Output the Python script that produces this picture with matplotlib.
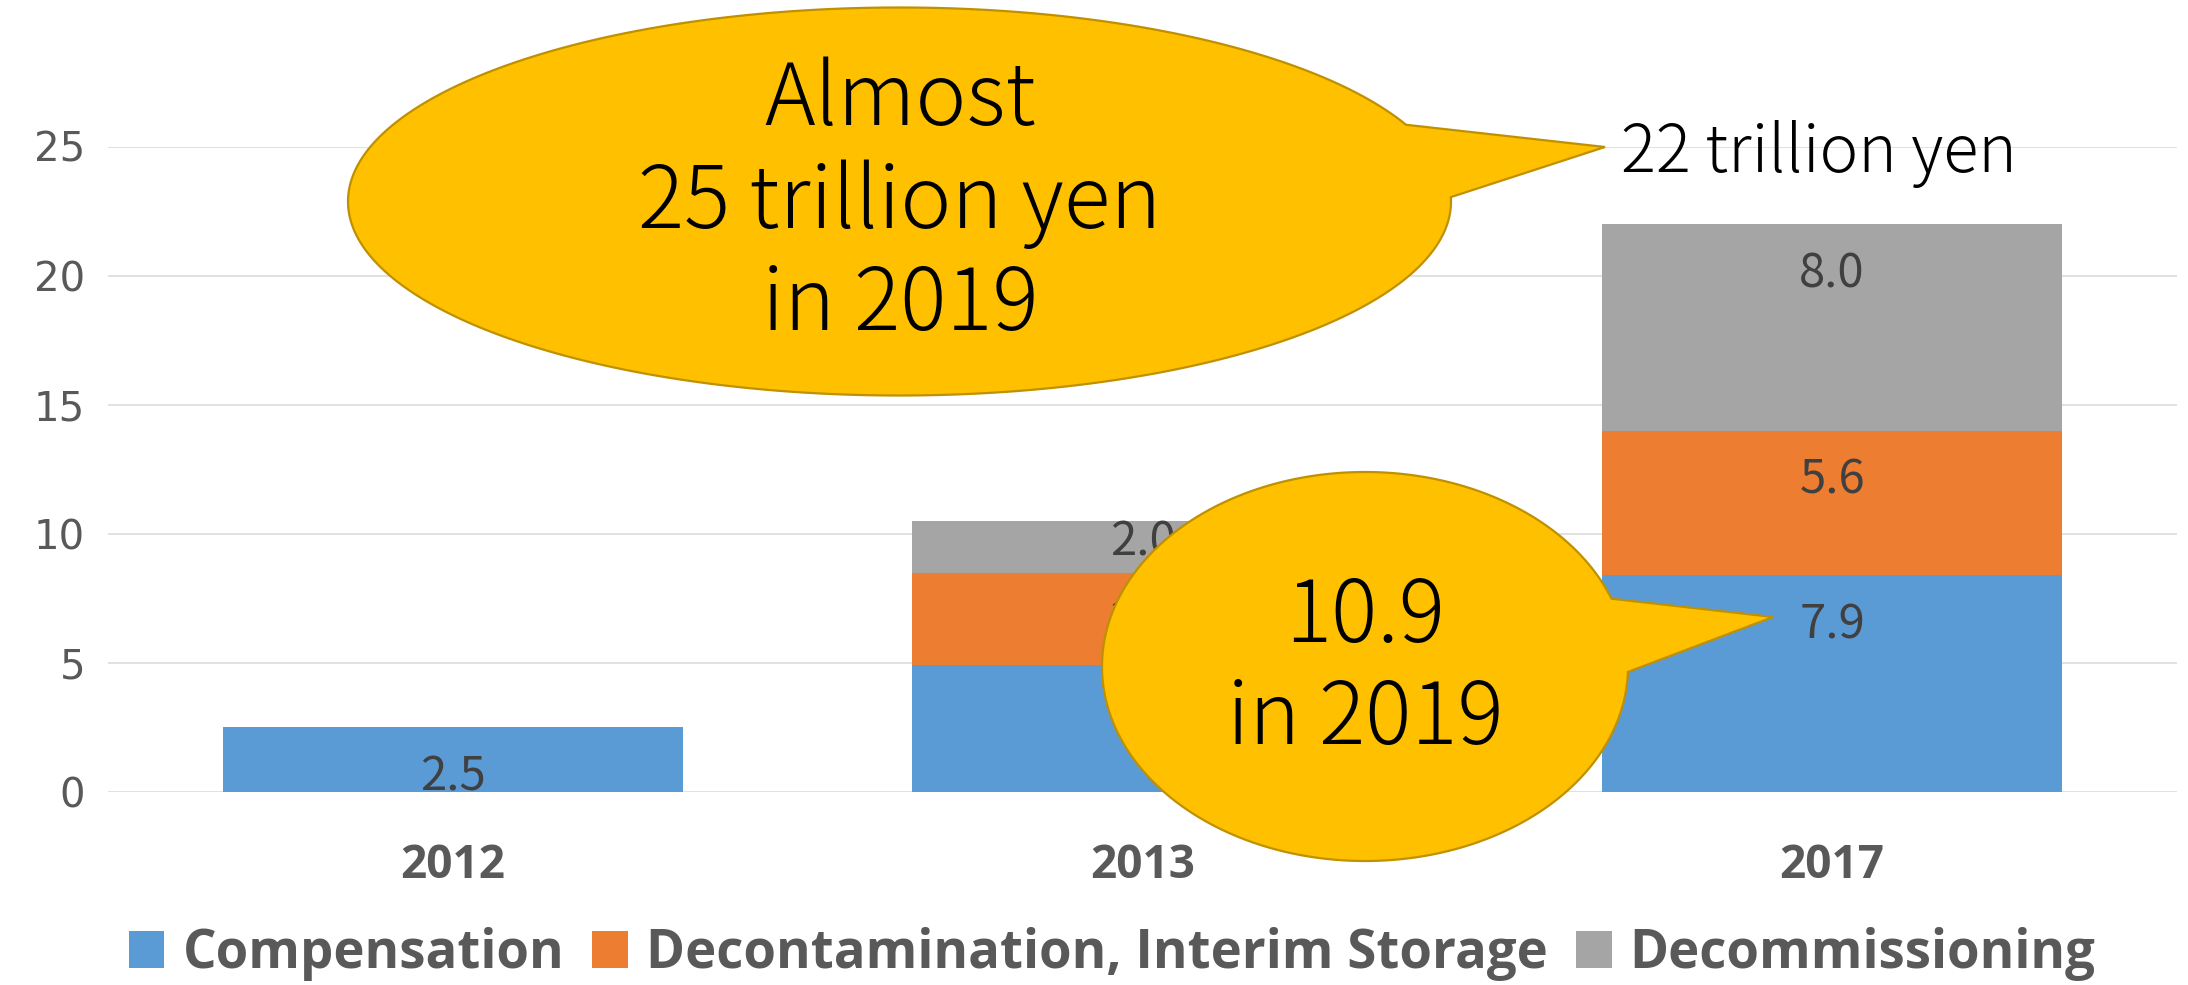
import numpy as np
import matplotlib
matplotlib.use("Agg")
import matplotlib.pyplot as plt
from matplotlib.patches import Polygon, Patch
from matplotlib import transforms

# ---------------- data ----------------
categories = ["2012", "2013", "2017"]
compensation = [2.5, 4.9, 8.4]
decontamination = [0.0, 3.6, 5.6]
decommissioning = [0.0, 2.0, 8.0]
compensation_labels = ["2.5", "4.9", "7.9"]
decontamination_labels = [None, "3.6", "5.6"]
decommissioning_labels = [None, "2.0", "8.0"]
series_names = ["Compensation", "Decontamination, Interim Storage", "Decommissioning"]
yticks = [0, 5, 10, 15, 20, 25]

colors = ["#5B9BD5", "#ED7D31", "#A5A5A5"]

W, H = 2188, 985
fig = plt.figure(figsize=(W / 100, H / 100), dpi=100)
fig.patch.set_facecolor("white")
ax = fig.add_axes([108 / W, 1 - 792 / H, (2177 - 108) / W, (792 - 146.5) / H])

x = np.arange(len(categories))
bw = 0.667
series = [compensation, decontamination, decommissioning]
labels = [compensation_labels, decontamination_labels, decommissioning_labels]
bottom = np.zeros(len(categories))
for vals, lab, col in zip(series, labels, colors):
    vals = np.array(vals, dtype=float)
    ax.bar(x, vals, bw, bottom=bottom, color=col, zorder=2, linewidth=0)
    for i in range(len(x)):
        if lab[i] is None or vals[i] <= 0:
            continue
        top = bottom[i] + vals[i]
        off = 2.45 if vals[i] >= 2.45 else 0.675 * vals[i]
        ax.text(x[i], top - off, lab[i], ha="center", va="baseline",
                fontsize=34, color="#404040",
                family=["Noto Sans CJK JP", "DejaVu Sans"], zorder=3)
    bottom = bottom + vals

ax.set_xlim(-0.5, 2.5)
ax.set_ylim(0, 25)
ax.set_yticks(yticks)
ax.set_yticklabels([str(v) for v in yticks], fontsize=29, color="#595959",
                   family="DejaVu Sans")
ax.set_xticks(x)
ax.set_xticklabels(categories, fontsize=33, color="#595959",
                   family=["Open Sans", "DejaVu Sans"], fontweight="bold")
ax.tick_params(axis="y", length=0, pad=16.5)
ax.tick_params(axis="x", length=0, pad=36)
ax.grid(axis="y", color="#D9D9D9", linewidth=1.1, zorder=0)
ax.set_axisbelow(True)
for s in ax.spines.values():
    s.set_visible(False)

# ---------------- legend ----------------
handles = [Patch(facecolor=c, edgecolor="none") for c in colors]
fig.legend(handles, series_names, loc="center", bbox_to_anchor=(1112 / W, 1 - 954 / H),
           ncol=3, frameon=False,
           prop={"family": ["Open Sans", "DejaVu Sans"], "weight": "bold", "size": 38},
           handlelength=0.68, handleheight=0.68, handletextpad=0.34,
           columnspacing=0.53, labelcolor="#595959", borderaxespad=0, borderpad=0)

# ---------------- callouts (pixel coords, y down) ----------------
px = transforms.Affine2D().scale(1 / W, -1 / H).translate(0, 1) + fig.transFigure


def callout(cx, cy, rx, ry, a1, a2, tip):
    t = np.radians(np.linspace(a2, a1 + 360, 500))
    pts = np.column_stack([cx + rx * np.cos(t), cy + ry * np.sin(t)])
    pts = np.vstack([pts, [tip]])
    poly = Polygon(pts, closed=True, facecolor="#FFC000", edgecolor="#BF9000",
                   linewidth=1.6, transform=px, zorder=10)
    fig.add_artist(poly)


callout(899.5, 201.5, 551.5, 194.0, -23.3, -1.3, (1605, 147))
callout(1365, 666.5, 263, 194.5, -20.4, 1.6, (1773, 617))

cfont = ["Noto Sans CJK JP", "DejaVu Sans"]
for txt, yb in [("Almost", 125), ("25 trillion yen", 228), ("in 2019", 330)]:
    fig.text(900, yb, txt, transform=px, ha="center", va="baseline",
             fontsize=62, family=cfont, fontweight="light", color="black", zorder=11)
for txt, yb in [("10.9", 642), ("in 2019", 744)]:
    fig.text(1365, yb, txt, transform=px, ha="center", va="baseline",
             fontsize=62, family=cfont, fontweight="light", color="black", zorder=11)
fig.text(1621, 172, "22 trillion yen", transform=px, ha="left", va="baseline",
         fontsize=47, family=cfont, fontweight="light", color="black", zorder=11)

fig.savefig("out.png", dpi=100, facecolor="white")
